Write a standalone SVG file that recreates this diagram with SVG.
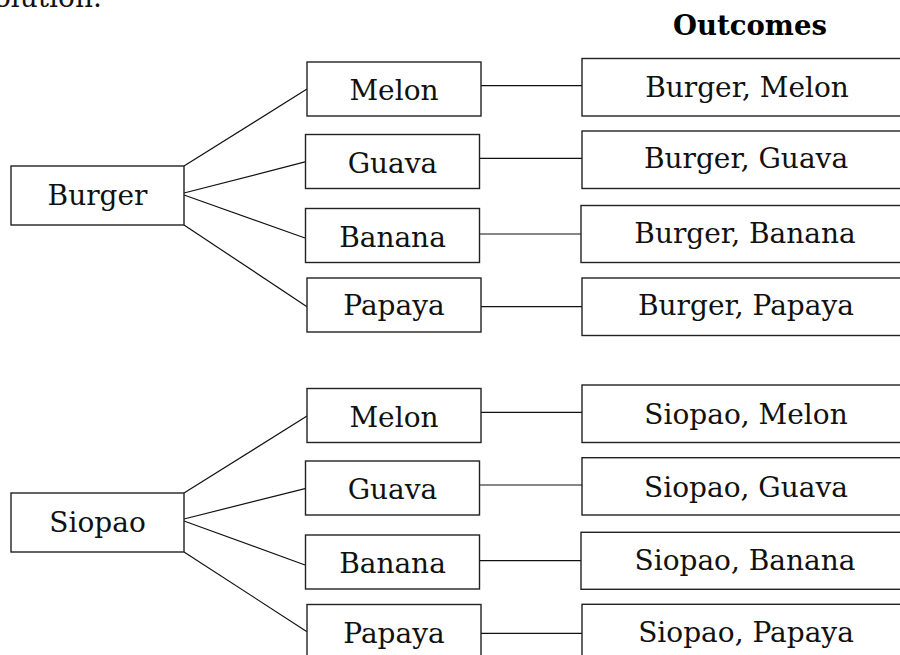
<svg xmlns="http://www.w3.org/2000/svg" width="900" height="655" viewBox="0 0 900 655">
<style>
  .box { fill: #ffffff; stroke: #222222; stroke-width: 1.4; }
  .lbl { font-family: "DejaVu Serif", "Liberation Serif", serif; font-size: 28px; fill: #111111; text-anchor: middle; }
  .hdr { font-family: "DejaVu Serif", "Liberation Serif", serif; font-size: 27.5px; font-weight: bold; fill: #000000; text-anchor: middle; }
  .conn line { stroke: #111111; stroke-width: 1.2; }
</style>
<rect width="900" height="655" fill="#ffffff"/>
<text x="-6" y="7" font-family="DejaVu Serif, Liberation Serif, serif" font-size="28" fill="#111111">olution.</text>
<text class="hdr" x="750" y="35">Outcomes</text>

<g id="connectors" class="conn">
  <line x1="184" y1="166" x2="307" y2="89"/>
  <line x1="184" y1="193" x2="306" y2="161.7"/>
  <line x1="184" y1="195" x2="305" y2="238"/>
  <line x1="184" y1="225" x2="307" y2="306.7"/>
  <line x1="481" y1="85.7" x2="582" y2="85.7"/>
  <line x1="480" y1="158.3" x2="582" y2="158.3"/>
  <line x1="480" y1="234" x2="581" y2="234"/>
  <line x1="481" y1="306.7" x2="582" y2="306.7"/>
  <line x1="184" y1="493" x2="307" y2="416"/>
  <line x1="184" y1="519" x2="306" y2="488.3"/>
  <line x1="184" y1="521" x2="305" y2="565"/>
  <line x1="184" y1="552" x2="307" y2="631.7"/>
  <line x1="481" y1="412.3" x2="582" y2="412.3"/>
  <line x1="480" y1="485" x2="582" y2="485"/>
  <line x1="480" y1="560.7" x2="581" y2="560.7"/>
  <line x1="481" y1="633.3" x2="582" y2="633.3"/>
</g>

<g id="burger"><rect class="box" x="11" y="166" width="173" height="59"/><text class="lbl" x="97.5" y="205">Burger</text></g>
<g id="b-melon"><rect class="box" x="307" y="62" width="174" height="54"/><text class="lbl" x="394" y="100">Melon</text></g>
<g id="b-guava"><rect class="box" x="305.5" y="134.5" width="174" height="54"/><text class="lbl" x="392.5" y="172.5">Guava</text></g>
<g id="b-banana"><rect class="box" x="305.5" y="208.5" width="174" height="54"/><text class="lbl" x="392.5" y="246.5">Banana</text></g>
<g id="b-papaya"><rect class="box" x="307" y="278" width="174" height="54"/><text class="lbl" x="394" y="315">Papaya</text></g>

<g id="o-burger-melon"><rect class="box" x="582" y="58.5" width="330" height="57.5"/><text class="lbl" x="747" y="97.3">Burger, Melon</text></g>
<g id="o-burger-guava"><rect class="box" x="582" y="131" width="330" height="57.5"/><text class="lbl" x="746" y="168.3">Burger, Guava</text></g>
<g id="o-burger-banana"><rect class="box" x="581" y="205.5" width="330" height="57"/><text class="lbl" x="745" y="243.3">Burger, Banana</text></g>
<g id="o-burger-papaya"><rect class="box" x="582" y="278" width="330" height="57.5"/><text class="lbl" x="746" y="315">Burger, Papaya</text></g>

<g id="siopao"><rect class="box" x="11" y="493" width="173" height="59"/><text class="lbl" x="97.5" y="531.7">Siopao</text></g>
<g id="s-melon"><rect class="box" x="307" y="388.5" width="174" height="54"/><text class="lbl" x="394" y="426.5">Melon</text></g>
<g id="s-guava"><rect class="box" x="305.5" y="461" width="174" height="54"/><text class="lbl" x="392.5" y="499">Guava</text></g>
<g id="s-banana"><rect class="box" x="305.5" y="535" width="174" height="54"/><text class="lbl" x="392.5" y="573.3">Banana</text></g>
<g id="s-papaya"><rect class="box" x="307" y="604.5" width="174" height="60"/><text class="lbl" x="394" y="643.3">Papaya</text></g>

<g id="o-siopao-melon"><rect class="box" x="582" y="385" width="330" height="57.5"/><text class="lbl" x="746" y="424.3">Siopao, Melon</text></g>
<g id="o-siopao-guava"><rect class="box" x="582" y="457.7" width="330" height="57.3"/><text class="lbl" x="746" y="496.7">Siopao, Guava</text></g>
<g id="o-siopao-banana"><rect class="box" x="581" y="532.3" width="330" height="57"/><text class="lbl" x="745" y="570">Siopao, Banana</text></g>
<g id="o-siopao-papaya"><rect class="box" x="582" y="604.3" width="330" height="60"/><text class="lbl" x="746" y="642.3">Siopao, Papaya</text></g>
</svg>
